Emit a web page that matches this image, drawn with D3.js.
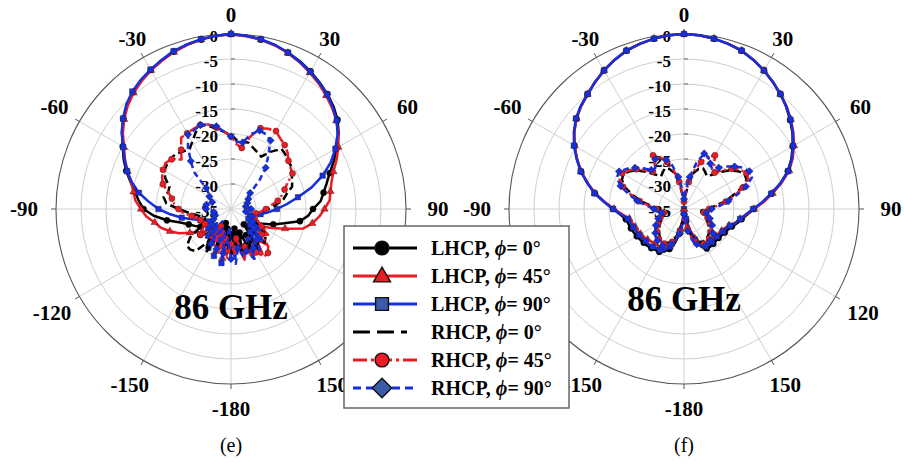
<!DOCTYPE html>
<html><head><meta charset="utf-8">
<script src="https://cdn.jsdelivr.net/npm/d3@7"></script>
<style>
html,body{margin:0;padding:0;background:#fff;}
svg{display:block;font-family:"Liberation Serif","Times New Roman",serif;}
</style></head><body>
<svg id="chart" width="904" height="467"></svg>
<script>
// theta (deg) every 5 deg, closed curve
var ANGLES = [-180,-175,-170,-165,-160,-155,-150,-145,-140,-135,-130,-125,
  -120,-115,-110,-105,-100,-95,-90,-85,-80,-75,-70,-65,
  -60,-55,-50,-45,-40,-35,-30,-25,-20,-15,-10,-5,
  0,5,10,15,20,25,30,35,40,45,50,55,
  60,65,70,75,80,85,90,95,100,105,110,115,
  120,125,130,135,140,145,150,155,160,165,170,175];
var DB_TICKS = [0, -5, -10, -15, -20, -25, -30, -35];
var ANGLE_TICKS = [0, 30, 60, 90, 120, 150, 180, 210, 240, 270, 300, 330];
var ANGLE_LABELS = ['0', '30', '60', '90', '120', '150', '-180', '-150', '-120', '-90', '-60', '-30'];
var SERIES_NAMES = ['LHCP, |= 0°', 'LHCP, |= 45°', 'LHCP, |= 90°', 'RHCP, |= 0°', 'RHCP, |= 45°', 'RHCP, |= 90°'];
var PANEL_TITLES = ['86 GHz', '86 GHz'];
var PANEL_TAGS = ['(e)', '(f)'];

// ---- panel (e) ----
var E_LHCP0 = [-30,-26,-31,-27,-32,-28,-30,-27,-29,-28,-27,-28,
  -28,-27,-26,-24.5,-22,-19.5,-17.5,-16.5,-15.5,-14.2,-12.7,-11.3,
  -10.0,-8.4,-6.9,-5.6,-4.5,-3.6,-2.9,-2.2,-1.5,-1.0,-0.6,-0.2,
  0,-0.2,-0.6,-1.1,-1.7,-2.4,-3.2,-4.1,-5.0,-6.0,-7.2,-8.7,
  -10.5,-12.3,-14.0,-15.2,-16.2,-17.0,-18.6,-19.5,-21.0,-24.0,-26.0,-28.0,
  -29,-27,-30,-28,-31,-27,-29,-26,-30,-27,-31,-28];
var E_LHCP45 = [-27,-30,-25,-29,-26,-30,-27,-29,-28,-30,-27.5,-27,
  -25.5,-23.5,-22,-20.5,-19.5,-18,-17,-15.8,-15.2,-14.3,-13.0,-11.6,
  -10.3,-8.6,-7.1,-5.8,-4.7,-3.8,-3.0,-2.3,-1.6,-1.0,-0.6,-0.2,
  -0.1,-0.3,-0.6,-1.1,-1.8,-2.6,-3.5,-4.4,-5.4,-6.4,-7.5,-8.8,
  -10.2,-11.7,-13.2,-14.2,-14.8,-15.2,-16.3,-17.3,-18.5,-20.0,-23.5,-26.0,
  -28,-26,-29,-25,-27,-24,-28,-25,-27,-24.5,-28,-26];
var E_LHCP90 = [-27,-31,-24,-30,-25,-31,-26,-32,-28,-31,-29,-31,
  -30,-29.5,-28.5,-27,-25,-22.8,-20.5,-18.5,-16.3,-14.5,-12.9,-11.5,
  -10.1,-8.3,-6.8,-5.4,-4.3,-3.5,-2.8,-2.1,-1.4,-0.9,-0.5,-0.2,
  0,-0.2,-0.5,-1.0,-1.7,-2.5,-3.3,-4.2,-5.1,-6.2,-7.4,-9.0,
  -10.9,-13.0,-15.5,-18.3,-21.4,-23.8,-25.8,-27.5,-29,-30,-31,-30,
  -31,-27,-30,-26,-29,-25,-28,-24,-27,-25,-29,-25];
var E_RHCP0 = [-26,-30,-27,-31,-26,-29,-25,-27,-24,-23.5,-23.5,-25,
  -28,-29,-29.5,-29,-28,-26.5,-24.5,-22,-21.3,-22,-21.9,-20.5,
  -19.6,-19.4,-19.3,-19.4,-20,-20.5,-19.5,-18.2,-17.1,-17.8,-18.8,-19.5,
  -20.2,-21.2,-21.2,-21.3,-22,-22.5,-22.9,-21,-19.3,-19.6,-20,-20.3,
  -21,-21.5,-22,-23.5,-24.4,-26,-27.5,-29,-30,-31,-30,-29,
  -28,-27,-26,-25.5,-27,-25,-27.5,-26,-28,-25.5,-28.5,-27];
var E_RHCP45 = [-28,-25,-29,-26,-30,-27,-31,-28,-29.5,-28,-27,-28,
  -29,-29,-28.5,-28,-27,-25.5,-24.5,-23.6,-23,-22,-20.5,-19.8,
  -19.3,-19,-19.5,-21,-19.5,-17.6,-17.5,-17.3,-17.1,-17.5,-18.5,-19.5,
  -20.5,-22,-22.6,-20,-17.8,-17.3,-17.0,-17.8,-18.3,-19.0,-20.0,-20.5,
  -20.8,-22.5,-23.6,-24.5,-25.5,-27,-28,-29,-30,-30.5,-30,-29,
  -28,-26,-27,-24.5,-23.5,-23.4,-25,-24,-27,-25,-29,-26];
var E_RHCP90 = [-25,-29,-26,-30,-26.5,-31,-27,-30,-29,-31,-30,-31,
  -31,-32,-31.5,-31,-31.5,-31,-30,-29,-30,-31,-31,-30.5,
  -30,-29.5,-28.5,-24.5,-22.5,-20,-17.8,-17.6,-17.1,-17.5,-18.2,-19.5,
  -20.5,-21.5,-21.5,-19.5,-18.3,-18.5,-19.2,-22,-24.2,-27,-30,-31,
  -31,-31,-31.5,-32,-32,-31.5,-31,-31.5,-32,-31,-30.5,-31,
  -30,-28,-29,-26,-27,-25,-26,-24,-26,-25,-27,-24];

// ---- panel (f) ----
var F_LHCP0 = [-34,-32.5,-30,-28,-26.5,-25.6,-25.1,-25,-24.8,-24.6,-24.5,-24.3,
  -24.1,-23.9,-23.7,-23.5,-23.2,-22.2,-20.8,-19.0,-16.9,-15.0,-13.1,-11.4,
  -9.7,-8.2,-6.9,-5.9,-5.0,-4.0,-3.0,-2.1,-1.3,-0.8,-0.4,-0.1,
  0,-0.1,-0.4,-0.8,-1.3,-2.1,-3.0,-4.0,-5.0,-6.1,-7.3,-8.5,
  -9.9,-11.3,-12.9,-15.0,-17.2,-19.2,-21.0,-22.3,-23.3,-24.0,-24.8,-25.3,
  -25.6,-25.8,-26.0,-26.0,-25.9,-25.8,-25.9,-26.6,-28,-30,-32.5,-34.5];
var F_LHCP45 = [-35,-33.5,-31,-29,-27.5,-26.5,-26,-26,-26,-25.8,-25.5,-25.2,
  -25,-24.8,-24.6,-24.3,-23.9,-22.6,-21.0,-19.1,-16.9,-15.1,-13.1,-11.4,
  -9.7,-8.2,-6.9,-5.9,-5.0,-4.0,-3.0,-2.1,-1.3,-0.8,-0.4,-0.1,
  0,-0.1,-0.4,-0.8,-1.3,-2.1,-3.0,-4.0,-5.0,-6.0,-7.1,-8.3,
  -9.6,-11.0,-12.6,-14.8,-17.0,-19.0,-21.0,-22.5,-23.6,-24.4,-25.4,-26,
  -26.3,-26.5,-26.7,-26.7,-26.6,-26.6,-26.6,-27.3,-28.8,-31,-33.5,-35];
var F_LHCP90 = [-35,-33,-30.5,-28.5,-27,-26,-25.5,-25.5,-25.2,-25,-25,-24.8,
  -24.6,-24.4,-24.2,-24,-23.6,-22.4,-20.8,-19.0,-16.8,-15.0,-13.0,-11.3,
  -9.6,-8.1,-6.8,-5.8,-5.0,-4.0,-3.0,-2.1,-1.3,-0.8,-0.4,-0.1,
  0,-0.1,-0.4,-0.8,-1.3,-2.1,-3.0,-4.0,-5.0,-6.0,-7.2,-8.4,
  -9.8,-11.2,-12.8,-15.0,-17.3,-19.3,-21.2,-22.6,-23.6,-24.3,-25.2,-25.8,
  -26,-26.2,-26.4,-26.4,-26.3,-26.3,-26.3,-27,-28.5,-30.5,-33,-35];
var F_RHCP0 = [-35,-33,-31,-29.5,-28.3,-27.5,-27.3,-27.3,-27.5,-28,-28.5,-29,
  -29.5,-30,-30.5,-31,-31.5,-31,-30,-28.5,-26.5,-24.5,-22.5,-21.3,
  -21,-21.8,-23,-24.5,-26,-27,-26.5,-26,-26.5,-27.5,-30,-32.5,
  -34,-32.5,-30,-27.5,-26.5,-26,-26.5,-27,-26,-24.5,-23,-21.8,
  -21,-21.2,-22.8,-25,-27,-29,-30.5,-31.5,-31.5,-31,-30.5,-30,
  -29.5,-29,-28.5,-28,-27.7,-27.5,-27.5,-27.7,-28.5,-29.5,-31.5,-33.5];
var F_RHCP45 = [-34.5,-32.5,-30.5,-29,-28,-27.2,-27,-27,-27.2,-27.5,-28,-28.5,
  -29,-29.5,-30,-30.5,-31,-30.5,-29.5,-28,-26,-24,-22,-20.8,
  -20.7,-21.5,-22.6,-24,-25.3,-25,-22.6,-23.5,-25,-27,-29.5,-32,
  -33.5,-32,-29.5,-27,-25,-23.5,-22.6,-24.5,-25.5,-24,-22.5,-21.3,
  -20.6,-20.8,-22.5,-24.5,-26.5,-28.5,-30,-31,-31,-30.5,-30,-29.5,
  -29,-28.5,-28,-27.5,-27.2,-27,-27,-27.2,-28,-29,-31,-33];
var F_RHCP90 = [-34,-32,-30,-28.5,-27.5,-26.8,-26.5,-26.5,-26.8,-27,-27.5,-28,
  -28.5,-29,-29.5,-30,-30.5,-29.5,-29,-27.5,-25.5,-23.5,-21.5,-20.2,
  -20,-21,-22.2,-23.5,-24.8,-25,-23.5,-23.8,-24.5,-26,-28.5,-31,
  -33,-31,-28.5,-25.5,-23.2,-23.5,-24.5,-25.2,-24.2,-23,-21.8,-20.6,
  -19.9,-20,-21.8,-24,-26,-27.8,-29.5,-30.5,-30.5,-30,-29.5,-29,
  -28.5,-28,-27.5,-27,-26.8,-26.5,-26.5,-26.8,-27.5,-28.5,-30.5,-32.5];

var PANEL_E = [E_LHCP0, E_LHCP45, E_LHCP90, E_RHCP0, E_RHCP45, E_RHCP90];
var PANEL_F = [F_LHCP0, F_LHCP45, F_LHCP90, F_RHCP0, F_RHCP45, F_RHCP90];

(function () {
  var svg = d3.select('#chart');
  svg.append('rect').attr('width', 904).attr('height', 467).attr('fill', '#fff');
  var R = 175, CY = 209;
  var RED = '#ec1c24', BLUE = '#1630e0', MBLUE = '#3a5ca8';
  // line / marker styles per series (same order as SERIES_NAMES)
  var STY = [
    { c: '#000', dash: null, sym: d3.symbolCircle, fill: '#000', ms: 30, ls: 150, rot: 0 },
    { c: RED, dash: null, sym: d3.symbolTriangle, fill: RED, ms: 24, ls: 125, rot: 0 },
    { c: BLUE, dash: null, sym: d3.symbolSquare, fill: BLUE, ms: 30, ls: 165, rot: 0 },
    { c: '#000', dash: '8,4', sym: null },
    { c: RED, dash: '10,3,2,3', sym: d3.symbolCircle, fill: RED, ms: 30, ls: 150, rot: 0 },
    { c: BLUE, dash: '6,4', sym: d3.symbolSquare, fill: BLUE, ms: 28, ls: 190, rot: 45 }
  ];
  var r = d3.scaleLinear().domain([-35, 0]).range([0, R]).clamp(true);
  var rad = function (a) { return a * Math.PI / 180; };

  function panel(cx, data, title, titleY, tag) {
    var g = svg.append('g').attr('transform', 'translate(' + cx + ',' + CY + ')');
    // grid rings
    g.selectAll('circle.ring').data(DB_TICKS.slice(1, 7)).enter().append('circle')
      .attr('r', function (d) { return r(d); }).attr('fill', 'none').attr('stroke', '#cfcfcf').attr('stroke-width', 1);
    // spokes
    g.selectAll('line.spoke').data(ANGLE_TICKS).enter().append('line')
      .attr('x2', function (d) { return R * Math.sin(rad(d)); }).attr('y2', function (d) { return -R * Math.cos(rad(d)); })
      .attr('stroke', '#cfcfcf').attr('stroke-width', 1);
    g.append('circle').attr('r', R).attr('fill', 'none').attr('stroke', '#555').attr('stroke-width', 1.1);
    // outer ticks
    g.selectAll('line.tk').data(ANGLE_TICKS).enter().append('line')
      .attr('x1', function (d) { return R * Math.sin(rad(d)); }).attr('y1', function (d) { return -R * Math.cos(rad(d)); })
      .attr('x2', function (d) { return (R + 5) * Math.sin(rad(d)); }).attr('y2', function (d) { return -(R + 5) * Math.cos(rad(d)); })
      .attr('stroke', '#555').attr('stroke-width', 1);
    // angle labels
    g.selectAll('text.al').data(ANGLE_TICKS).enter().append('text')
      .attr('x', function (d) { var s = Math.sin(rad(d)), c = Math.cos(rad(d)); return (R + 19 + 13 * s * s + (c < 0 ? -6 * c : 0)) * s; })
      .attr('y', function (d) { var s = Math.sin(rad(d)), c = Math.cos(rad(d)); return -(R + 19 + 13 * s * s + (c < 0 ? -6 * c : 0)) * c; })
      .attr('dy', '0.35em').attr('text-anchor', 'middle').attr('font-size', 21).attr('font-weight', 700)
      .text(function (d, i) { return ANGLE_LABELS[i]; });
    // radial (dB) labels
    g.selectAll('text.rl').data(DB_TICKS).enter().append('text')
      .attr('x', -13).attr('y', function (d) { return -r(d) + 2; }).attr('dy', '0.35em')
      .attr('text-anchor', 'end').attr('font-size', 17).attr('font-weight', 700).text(function (d) { return d; });
    g.selectAll('line.rt').data(DB_TICKS.slice(1, 7)).enter().append('line')
      .attr('x1', 0).attr('x2', 4).attr('y1', function (d) { return -r(d); }).attr('y2', function (d) { return -r(d); })
      .attr('stroke', '#666');

    var line = d3.lineRadial().angle(function (d) { return rad(d[0]); }).radius(function (d) { return r(d[1]); })
      .curve(d3.curveLinearClosed);
    data.forEach(function (vals, k) {
      var st = STY[k];
      var pts = ANGLES.map(function (a, i) { return [a, vals[i]]; });
      g.append('path').attr('d', line(pts)).attr('fill', 'none').attr('stroke', st.c)
        .attr('stroke-width', 2.5).attr('stroke-dasharray', st.dash).attr('stroke-linejoin', 'round');
      if (st.sym) {
        g.selectAll(null).data(pts.filter(function (p) { return p[0] % 10 === 0; })).enter().append('path')
          .attr('d', d3.symbol().type(st.sym).size(st.ms))
          .attr('transform', function (p) {
            var rr = r(p[1]);
            return 'translate(' + (rr * Math.sin(rad(p[0]))) + ',' + (-rr * Math.cos(rad(p[0]))) + ') rotate(' + st.rot + ')';
          })
          .attr('fill', st.fill).attr('stroke', st.c === '#000' ? '#000' : '#222').attr('stroke-width', 0.4);
      }
    });
    svg.append('text').attr('x', cx).attr('y', titleY).attr('text-anchor', 'middle')
      .attr('font-size', 35).attr('font-weight', 700).text(title);
    svg.append('text').attr('x', cx).attr('y', 452).attr('text-anchor', 'middle')
      .attr('font-size', 20).text(tag);
  }

  panel(231, PANEL_E, PANEL_TITLES[0], 319, PANEL_TAGS[0]);
  panel(684, PANEL_F, PANEL_TITLES[1], 311, PANEL_TAGS[1]);

  // legend
  var lg = svg.append('g').attr('transform', 'translate(344,226)');
  lg.append('rect').attr('width', 225).attr('height', 182).attr('fill', '#fff').attr('stroke', '#666').attr('stroke-width', 1.5);
  var LDASH = [null, null, null, '17,7', '14,4,3,4', '8,5'];
  SERIES_NAMES.forEach(function (name, i) {
    var st = STY[i], y = 22 + 28 * i;
    lg.append('line').attr('x1', 9).attr('x2', i === 3 ? 63 : 73).attr('y1', y).attr('y2', y)
      .attr('stroke', st.c).attr('stroke-width', 3).attr('stroke-dasharray', LDASH[i]);
    if (st.sym) {
      lg.append('path').attr('d', d3.symbol().type(st.sym).size(st.ls))
        .attr('transform', 'translate(38,' + (y + (st.sym === d3.symbolTriangle ? 1 : 0)) + ') rotate(' + st.rot + ')')
        .attr('fill', i === 2 || i === 5 ? MBLUE : st.fill).attr('stroke', '#111').attr('stroke-width', 1.4);
    }
    var parts = name.split('|');
    var t = lg.append('text').attr('x', 87).attr('y', y + 7).attr('font-size', 20).attr('font-weight', 700);
    t.append('tspan').text(parts[0]);
    t.append('tspan').attr('font-style', 'italic').text('\u03D5');
    t.append('tspan').text(parts[1]);
  });
})();
</script>
</body></html>
